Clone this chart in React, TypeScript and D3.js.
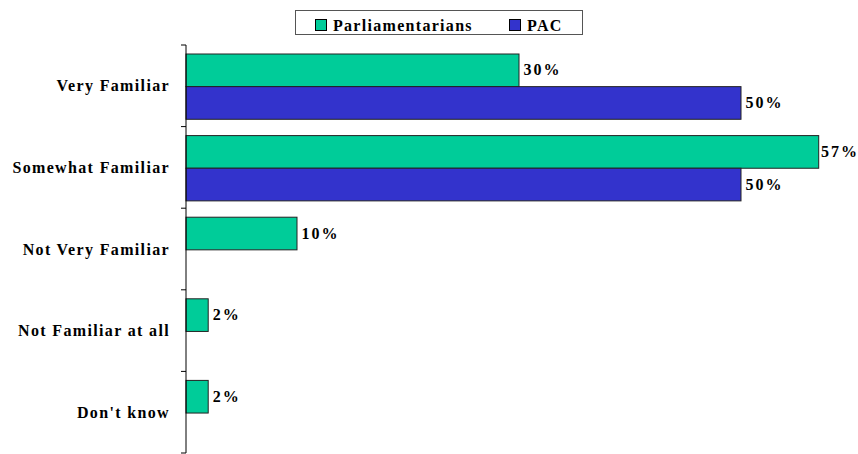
import React from "react";
import * as d3 from "d3";

const categories = ["Very Familiar", "Somewhat Familiar", "Not Very Familiar", "Not Familiar at all", "Don't know"];
const seriesNames = ["Parliamentarians", "PAC"];
const parliamentarians = [30, 57, 10, 2, 2];
const pac: (number | null)[] = [50, 50, null, null, null];
const colors = ["#00CC99", "#3333CC"];

const W = 858;
const H = 454;

export default function App() {
  const x = d3.scaleLinear().domain([0, 60]).range([186, 186 + 666]);
  const y = d3.scaleBand<string>().domain(categories).range([45, 453]);
  const step = y.step();
  const inner = d3.scaleBand<string>().domain(seriesNames).range([9, 9 + step * 0.8]);
  const series = [parliamentarians, pac];
  const font = "'Liberation Serif', 'Times New Roman', Times, serif";
  const ticks = d3.range(categories.length + 1).map((i) => 45 + i * step);

  return (
    <svg width={W} height={H} style={{ position: "absolute", left: 0, top: 0, background: "#fff" }} fontFamily={font}>
      {/* legend */}
      <rect x={295.5} y={10.5} width={287} height={24} fill="#fff" stroke="#555" strokeWidth={1} />
      {seriesNames.map((s, i) => {
        const lx = i === 0 ? 315 : 509;
        return (
          <g key={s}>
            <rect x={lx + 0.5} y={19.5} width={11} height={11} fill={colors[i]} stroke="#000" strokeWidth={1} />
            <text x={lx + 18} y={30.5} fontSize={16} fontWeight="bold" letterSpacing={1.3} fill="#000">{s}</text>
          </g>
        );
      })}
      {/* bars */}
      {series.map((vals, si) =>
        categories.map((c, ci) => {
          const v = vals[ci];
          if (v == null) return null;
          const y0 = (y(c) ?? 0) + (inner(seriesNames[si]) ?? 0);
          const h = inner.bandwidth();
          const lx = Math.min(x(v) + 4.5, 821);
          return (
            <g key={si + "-" + c}>
              <rect x={x(0)} y={y0} width={x(v) - x(0)} height={h} fill={colors[si]} stroke="#222" strokeWidth={1} />
              <text x={lx} y={y0 + h / 2 + 5} fontSize={16} fontWeight="bold" letterSpacing={2} fill="#000">{v + "%"}</text>
            </g>
          );
        })
      )}
      {/* axis */}
      <line x1={186} x2={186} y1={45} y2={453} stroke="#000" strokeWidth={1} />
      {ticks.map((t, i) => (
        <line key={i} x1={181} x2={186} y1={t} y2={t} stroke="#000" strokeWidth={1} />
      ))}
      {categories.map((c) => (
        <text key={c} x={170} y={(y(c) ?? 0) + step / 2 + 5.5} textAnchor="end" fontSize={16} fontWeight="bold" letterSpacing={1.35} fill="#000">{c}</text>
      ))}
    </svg>
  );
}
